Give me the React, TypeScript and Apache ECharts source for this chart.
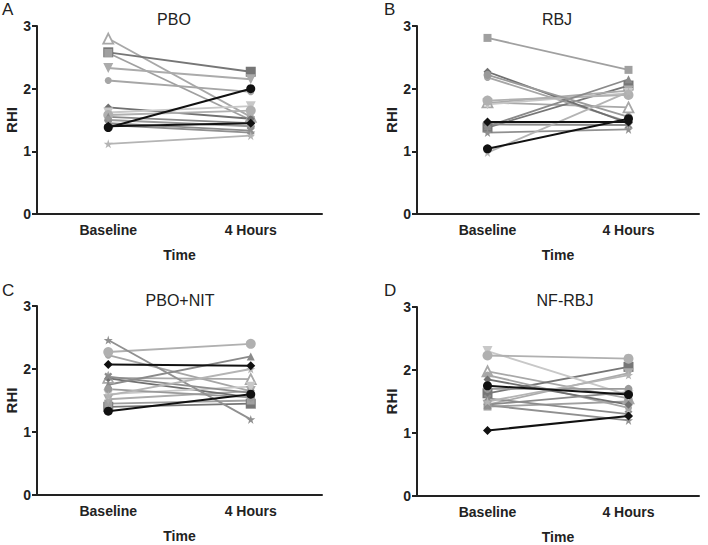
import React, { useEffect, useRef } from "react";
import * as echarts from "echarts";

const categories = ["Baseline", "4 Hours"];
const yTicks = [0, 1, 2, 3];
const panelNames = ["PBO", "RBJ", "PBO+NIT", "NF-RBJ"];
const panelLetters = ["A", "B", "C", "D"];

// [baseline, 4 hours] for each subject
const panelA = [
  [2.80, 1.55], [2.58, 2.27], [2.57, 1.50], [2.33, 2.15], [2.13, 1.95],
  [1.70, 1.52], [1.62, 1.72], [1.58, 1.65], [1.55, 1.45], [1.50, 1.40],
  [1.38, 2.00], [1.40, 1.45], [1.45, 1.33], [1.42, 1.30], [1.12, 1.25],
];
const panelB = [
  [1.78, 1.70], [1.38, 2.05], [2.81, 2.30], [1.77, 1.97], [2.18, 1.47],
  [2.27, 1.45], [1.75, 1.93], [1.81, 1.90], [1.40, 2.15], [2.22, 1.55],
  [1.04, 1.52], [1.47, 1.47], [1.43, 1.42], [1.30, 1.35], [0.98, 1.95],
];
const panelC = [
  [1.86, 1.84], [1.40, 1.45], [1.45, 1.50], [1.52, 1.65], [2.22, 1.65],
  [1.85, 1.55], [1.60, 1.72], [2.27, 2.40], [1.75, 2.20], [1.68, 1.55],
  [1.33, 1.60], [2.07, 2.05], [1.88, 1.62], [2.46, 1.20], [1.58, 2.00],
];
const panelD = [
  [1.98, 1.55], [1.63, 2.05], [1.42, 1.50], [1.45, 1.95], [1.92, 1.40],
  [1.85, 1.45], [2.30, 1.60], [2.23, 2.18], [1.45, 1.65], [1.70, 1.70],
  [1.75, 1.61], [1.04, 1.27], [1.55, 1.30], [1.44, 1.20], [1.50, 1.92],
];
const panels = [panelA, panelB, panelC, panelD];

const STAR = "path://M50,0 L61,35 L98,35 L68,57 L79,91 L50,70 L21,91 L32,57 L2,35 L39,35 Z";
const CROSS = "path://M0,20 L20,0 L50,30 L80,0 L100,20 L70,50 L100,80 L80,100 L50,70 L20,100 L0,80 L30,50 Z";

const subjectStyles = [
  { symbol: "triangle", color: "#a8a8a8", open: true, size: 10, rotate: 0 },
  { symbol: "rect", color: "#767676", open: false, size: 10, rotate: 0 },
  { symbol: "rect", color: "#a0a0a0", open: false, size: 8, rotate: 0 },
  { symbol: "triangle", color: "#ababab", open: false, size: 10, rotate: 180 },
  { symbol: "circle", color: "#a6a6a6", open: false, size: 7, rotate: 0 },
  { symbol: "diamond", color: "#707070", open: false, size: 8, rotate: 0 },
  { symbol: "triangle", color: "#c8c8c8", open: false, size: 10, rotate: 180 },
  { symbol: "circle", color: "#b0b0b0", open: false, size: 10, rotate: 0 },
  { symbol: "triangle", color: "#8a8a8a", open: false, size: 8, rotate: 0 },
  { symbol: "circle", color: "#9a9a9a", open: false, size: 8, rotate: 0 },
  { symbol: "circle", color: "#111111", open: false, size: 9, rotate: 0 },
  { symbol: "diamond", color: "#111111", open: false, size: 9, rotate: 0 },
  { symbol: CROSS, color: "#8c8c8c", open: false, size: 8, rotate: 0 },
  { symbol: STAR, color: "#909090", open: false, size: 9, rotate: 0 },
  { symbol: STAR, color: "#b4b4b4", open: false, size: 9, rotate: 0 },
];

const grids = [
  { left: 37, top: 26, width: 285, height: 188 },
  { left: 417, top: 26, width: 282, height: 188 },
  { left: 37, top: 306, width: 285, height: 189 },
  { left: 417, top: 307, width: 282, height: 189 },
];

const FONT = "'Liberation Sans', Arial, sans-serif";
const AXIS_COLOR = "#222";

export default function App() {
  const ref = useRef<HTMLDivElement>(null);
  useEffect(() => {
    if (!ref.current) return;
    const chart = echarts.init(ref.current, undefined, { renderer: "svg" });

    const xAxis = grids.map((_, i) => ({
      type: "category",
      gridIndex: i,
      data: categories,
      boundaryGap: true,
      name: "Time",
      nameLocation: "middle",
      nameGap: 34,
      nameTextStyle: { fontFamily: FONT, fontWeight: "bold", fontSize: 14, color: AXIS_COLOR },
      axisLine: { lineStyle: { color: AXIS_COLOR, width: 2 } },
      axisTick: { alignWithLabel: true, length: 5, lineStyle: { color: AXIS_COLOR, width: 2 } },
      axisLabel: { fontFamily: FONT, fontWeight: "bold", fontSize: 14, color: AXIS_COLOR, margin: 9 },
      splitLine: { show: false },
    }));

    const yAxis = grids.map((_, i) => ({
      type: "value",
      gridIndex: i,
      min: yTicks[0],
      max: yTicks[yTicks.length - 1],
      interval: 1,
      name: "RHI",
      nameLocation: "middle",
      nameGap: 15,
      nameTextStyle: { fontFamily: FONT, fontWeight: "bold", fontSize: 15, color: AXIS_COLOR },
      axisLine: { show: true, lineStyle: { color: AXIS_COLOR, width: 2 } },
      axisTick: { show: true, length: 5, lineStyle: { color: AXIS_COLOR, width: 2 } },
      axisLabel: { fontFamily: FONT, fontWeight: "bold", fontSize: 14, color: AXIS_COLOR, margin: 6 },
      splitLine: { show: false },
    }));

    const series: any[] = [];
    panels.forEach((panel, p) => {
      panel.forEach((vals, s) => {
        const st = subjectStyles[s];
        const dark = st.color === "#111111";
        series.push({
          type: "line",
          xAxisIndex: p,
          yAxisIndex: p,
          data: vals,
          symbol: st.symbol,
          symbolSize: st.size,
          symbolRotate: st.rotate,
          showSymbol: true,
          z: dark ? 5 : 2,
          lineStyle: { color: st.color, width: dark ? 2 : 1.8 },
          itemStyle: st.open
            ? { color: "#fff", borderColor: st.color, borderWidth: 1.8 }
            : { color: st.color },
          emphasis: { disabled: true },
        });
      });
    });

    const titleCenters = [
      { x: 174, y: 19 },
      { x: 557, y: 19 },
      { x: 180, y: 300 },
      { x: 565, y: 300 },
    ];
    const letterPos = [
      { x: 2, y: 9 },
      { x: 384, y: 9 },
      { x: 2, y: 290 },
      { x: 384, y: 290 },
    ];

    const graphic: any[] = [];
    panelNames.forEach((n, i) => {
      graphic.push({
        type: "text",
        x: titleCenters[i].x,
        y: titleCenters[i].y,
        style: {
          text: n,
          fontFamily: FONT,
          fontSize: 16,
          fill: "#222",
          textAlign: "center",
          textVerticalAlign: "middle",
        },
      });
      graphic.push({
        type: "text",
        x: letterPos[i].x,
        y: letterPos[i].y,
        style: {
          text: panelLetters[i],
          fontFamily: FONT,
          fontSize: 17,
          fill: "#222",
          textAlign: "left",
          textVerticalAlign: "middle",
        },
      });
    });

    chart.setOption({
      animation: false,
      backgroundColor: "#fff",
      grid: grids,
      xAxis,
      yAxis,
      series,
      graphic,
    });
    return () => chart.dispose();
  }, []);

  return (
    <div
      ref={ref}
      style={{ position: "absolute", left: 0, top: 0, width: 708, height: 545 }}
    />
  );
}
